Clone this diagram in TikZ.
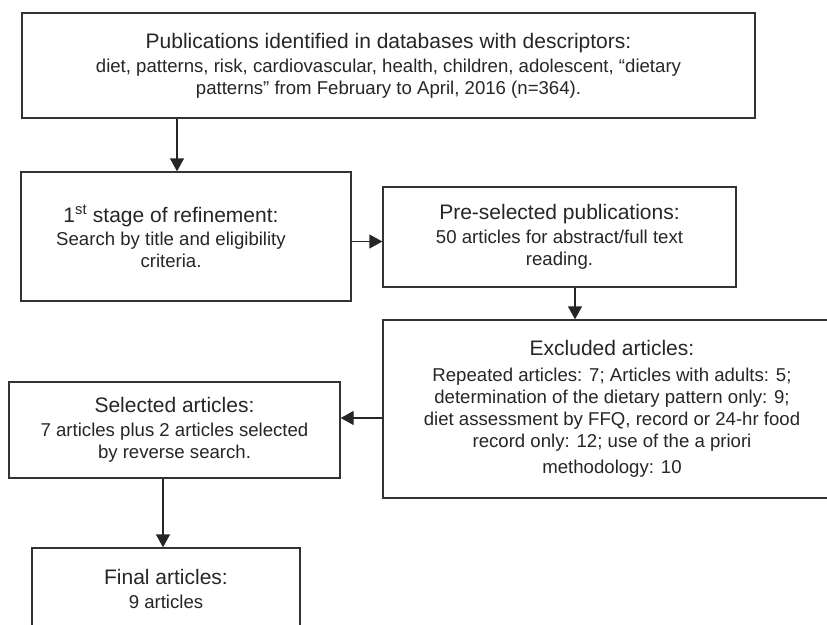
\documentclass[tikz,border=0pt]{standalone}
\usepackage{fontspec}
\setsansfont{Liberation Sans}
\usepackage{tikz}
\usetikzlibrary{arrows.meta,positioning,calc}
\definecolor{ink}{HTML}{262626}
\definecolor{edgegray}{HTML}{333333}
\newcommand{\headsz}{\fontsize{21}{24}\selectfont}
\newcommand{\bodysz}{\fontsize{18.6}{22}\selectfont}
\tikzset{
  >={Triangle[length=13pt,width=14pt]},
  flowbox/.style={draw=edgegray, fill=white, line width=1.4pt, inner sep=0pt,
                  font=\sffamily\bodysz, text=ink, align=center},
  boxtext/.style={font=\sffamily\bodysz, text=ink, align=center, inner sep=0pt},
  flowarrow/.style={->, draw=ink, line width=1.4pt},
}

\begin{document}
\begin{tikzpicture}[x=1pt, y=-1pt, font=\sffamily, line cap=butt]
\useasboundingbox (0,0) rectangle (827,624);
\clip (0,0) rectangle (827,624);

% ===================== BOXES =====================
\node[flowbox, minimum width=733pt, minimum height=105pt] (pub) at (388.5,65.5)
  {{\headsz Publications identified in databases with descriptors:}\\[2pt]
   diet, patterns, risk, cardiovascular, health, children, adolescent, “dietary\\
   patterns” from February to April, 2016 (n=364).};

\node[flowbox, minimum width=330pt, minimum height=129pt] (stage) at (186,236.5) {};
\node[boxtext, xshift=-15pt] (stagetxt) at (stage.center)
  {{\headsz 1\textsuperscript{st} stage of refinement:}\\[1.5pt]
   Search by title and eligibility\\ criteria.};

\node[flowbox, minimum width=353pt, minimum height=100pt] (presel) at (559.5,237)
  {{\headsz Pre-selected publications:}\\[1.5pt]
   50 articles for abstract/full text\\ reading.};

\node[flowbox, minimum width=458pt, minimum height=178pt] (excl) at (612,409)
  {{\headsz Excluded articles:}\\[4pt]
   Repeated articles: 7; Articles with adults: 5;\\
   determination of the dietary pattern only: 9;\\
   diet assessment by FFQ, record or 24-hr food\\
   record only: 12; use of the a priori\\[4pt]
   methodology: 10};

\node[flowbox, minimum width=331pt, minimum height=96pt] (sel) at (174.5,430)
  {{\headsz Selected articles:}\\[1.5pt]
   7 articles plus 2 articles selected\\ by reverse search.};

\node[flowbox, minimum width=268pt, minimum height=82pt] (final) at (166,589)
  {{\headsz Final articles:}\\[1.5pt] 9 articles};

% ===================== ARROWS =====================
\draw[flowarrow] ([xshift=-9pt]stage.north |- pub.south) -- ([xshift=-9pt]stage.north);
\draw[flowarrow] ([yshift=-5pt]stage.east) -- ([yshift=-5pt]stage.east -| presel.west);
\draw[flowarrow] ([xshift=15.5pt]presel.south) -- ([xshift=15.5pt]presel.south |- excl.north);
\draw[flowarrow] ([yshift=-9pt]excl.west) -- ([yshift=-9pt]excl.west -| sel.east);
\draw[flowarrow] ([xshift=-11.5pt]sel.south) -- ([xshift=-11.5pt]sel.south |- final.north);

\end{tikzpicture}
\end{document}
